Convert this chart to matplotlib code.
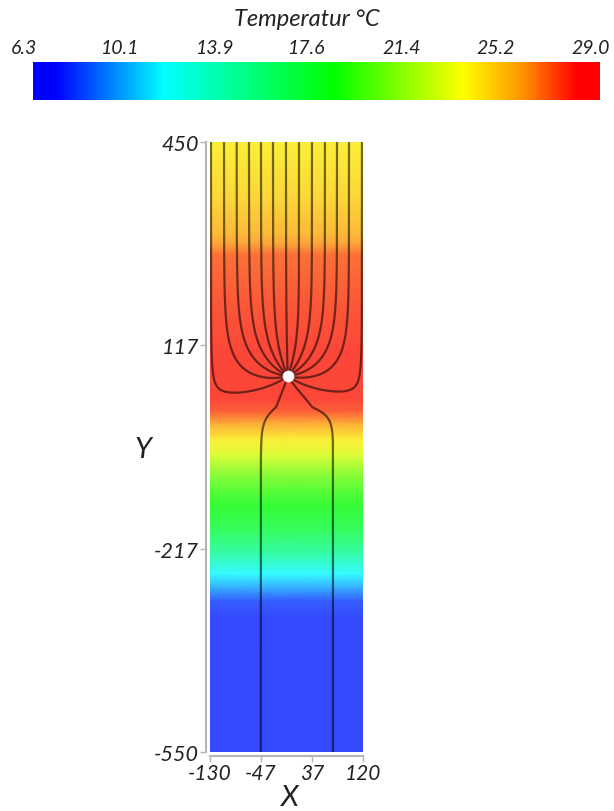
import numpy as np
import matplotlib
matplotlib.use("Agg")
import matplotlib.pyplot as plt
import matplotlib.transforms as mtransforms
from matplotlib.colors import LinearSegmentedColormap, Normalize
from matplotlib.cm import ScalarMappable

plt.rcParams['font.family'] = ['Lato', 'DejaVu Sans']
plt.rcParams['font.style'] = 'italic'

# ---- data -------------------------------------------------------------
t_min, t_max = 6.3, 29.0
cbar_ticks = [6.3, 10.1, 13.9, 17.6, 21.4, 25.2, 29.0]

x_range = [-130, 120]
y_range = [-550, 450]
x_ticks = [-130, -47, 37, 120]
y_ticks = [-550, -217, 117, 450]

# vertical temperature profile (depth in m, temperature in degC)
profile_y = [450, 357, 300, 283, 266, 193, 111, 29, 9, -12, -37, -61, -94,
             -127, -148, -184, -225, -258, -283, -302, -332, -550]
profile_t = [23.9, 24.6, 25.4, 25.9, 26.9, 27.4, 27.7, 27.7, 27.3, 25.8,
             24.0, 22.8, 20.6, 19.0, 18.3, 17.2, 14.5, 11.5, 9.7, 8.1,
             7.7, 7.7]

# extraction well and streamline seeds
well_x, well_y = -3, 66
bottom_share = 0.3          # fraction of the well discharge entering from below
layer_top = 15              # top of the low-permeability lower layer
layer_stretch = 3.0         # vertical compression of flow paths in that layer
top_seeds_x = [-128.4, -107.1, -86.4, -66.3, -46.7, -27.1, -5.9,
               15.4, 36.6, 57.8, 77.5, 97.1, 118.3]
bottom_seeds_x = [-47, 71]

# ---- colour map ---------------------------------------------------------
nodes = [(0.00, (0.0, 0.0, 1.0)),
         (0.04, (0.0, 0.0, 1.0)),
         (0.23, (0.0, 1.0, 1.0)),
         (0.53, (0.0, 1.0, 0.0)),
         (0.76, (1.0, 1.0, 0.0)),
         (0.86, (1.0, 0.6, 0.0)),
         (0.96, (1.0, 0.0, 0.0)),
         (1.00, (1.0, 0.0, 0.0))]
cmap = LinearSegmentedColormap.from_list('temp', nodes)
wash = 0.22
field_nodes = [(p, tuple((1 - wash) * np.array(c) + wash * np.array([0.95, 0.95, 1.0])))
               for p, c in nodes]
field_cmap = LinearSegmentedColormap.from_list('temp_field', field_nodes)
norm = Normalize(t_min, t_max)

# ---- potential flow: well in a channel bounded by x_range -------------
a = x_range[0]
W = x_range[1] - x_range[0]
Q = 1.0
c = bottom_share * Q / np.pi
z0 = well_x + 1j * well_y
zeta0 = np.exp(-1j * np.pi * (z0 - a) / W)


def velocity(x, y):
    z = x + 1j * y
    zeta = np.exp(-1j * np.pi * (z - a) / W)
    dF = (-(Q / (2 * np.pi)) * (1 / (zeta - zeta0) + 1 / (zeta - np.conj(zeta0)))
          + c / zeta)
    dFdz = dF * (-1j * np.pi / W) * zeta
    return dFdz.real, -dFdz.imag


def direction(p):
    x, y = p
    if y < layer_top:
        u, v = velocity(x, layer_top + (y - layer_top) * layer_stretch)
        v = v / layer_stretch
    else:
        u, v = velocity(x, y)
    s = np.hypot(u, v) + 1e-30
    return np.array([u / s, v / s])


def trace(x, y, ds=0.5, nmax=8000):
    p = np.array([x, y], dtype=float)
    pts = [p.copy()]
    for _ in range(nmax):
        k1 = direction(p)
        k2 = direction(p + 0.5 * ds * k1)
        k3 = direction(p + 0.5 * ds * k2)
        k4 = direction(p + ds * k3)
        p = p + ds * (k1 + 2 * k2 + 2 * k3 + k4) / 6
        p[0] = np.clip(p[0], x_range[0] + 0.2, x_range[1] - 0.2)
        pts.append(p.copy())
        if np.hypot(p[0] - well_x, p[1] - well_y) < 1.5:
            break
        if p[1] > y_range[1] or p[1] < y_range[0]:
            break
    return np.array(pts)


# ---- figure -------------------------------------------------------------
fig = plt.figure(figsize=(6.14, 8.12), dpi=100)
ink = '#222222'

# colour bar
cax = fig.add_axes([33 / 614, 1 - 101 / 812, (600 - 33) / 614, 38 / 812])
cb = fig.colorbar(ScalarMappable(norm=norm, cmap=cmap), cax=cax,
                  orientation='horizontal', ticks=cbar_ticks)
cb.outline.set_visible(False)
cax.xaxis.set_ticks_position('top')
cax.tick_params(length=0, pad=4, labelsize=14, labelcolor=ink)
cax.set_xticklabels([f'{t:.1f}' for t in cbar_ticks])
shift = mtransforms.ScaledTranslation(-9 / 100, 0, fig.dpi_scale_trans)
for lab in cax.get_xticklabels():
    lab.set_fontstyle('italic')
    lab.set_transform(lab.get_transform() + shift)
fig.text(0.5, 1 - 20 / 812, 'Temperatur °C', ha='center', va='center',
         fontsize=17, style='italic', color=ink)

# main section
ax = fig.add_axes([210 / 614, 1 - 753 / 812, 153 / 614, 610 / 812])
ax.set_xlim(*x_range)
ax.set_ylim(*y_range)

X = np.array(x_range, dtype=float)
Y = np.array(profile_y, dtype=float)
C = np.repeat(np.array(profile_t)[:, None], 2, axis=1)
ax.pcolormesh(X, Y, C, cmap=field_cmap, norm=norm, shading='gouraud',
              rasterized=True)

for xs in top_seeds_x:
    tr = trace(xs, y_range[1])
    ax.plot(tr[:, 0], tr[:, 1], color='black', alpha=0.55, lw=1.6,
            solid_capstyle='butt')
for xs in bottom_seeds_x:
    tr = trace(xs, y_range[0])
    ax.plot(tr[:, 0], tr[:, 1], color='black', alpha=0.55, lw=1.6,
            solid_capstyle='butt')

ax.plot(well_x, well_y, 'o', color='white', ms=8, mec='#e8e8e8', mew=0.5,
        zorder=5)

for side in ('top', 'right'):
    ax.spines[side].set_visible(False)
for side in ('left', 'bottom'):
    ax.spines[side].set_position(('outward', 3))
    ax.spines[side].set_color('#b5b5b5')
    ax.spines[side].set_linewidth(1.5)

ax.set_xticks(x_ticks)
ax.set_yticks(y_ticks)
ax.set_xticklabels([str(v) for v in x_ticks])
ax.set_yticklabels([str(v) for v in y_ticks])
ax.tick_params(length=4, width=1, color='#b5b5b5', labelsize=15.5,
               labelcolor=ink, pad=1)
ax.tick_params(axis='x', labelsize=15)
for lab in ax.get_xticklabels() + ax.get_yticklabels():
    lab.set_fontstyle('italic')

ax.set_xlabel('X', fontsize=21, style='italic', color=ink, va='center')
ax.set_ylabel('Y', fontsize=21, style='italic', color=ink, rotation=0,
              ha='center', va='center')
ax.xaxis.set_label_coords(0.52, -0.074)
ax.yaxis.set_label_coords(-0.438, 0.497)

fig.savefig('out.png', dpi=100)
